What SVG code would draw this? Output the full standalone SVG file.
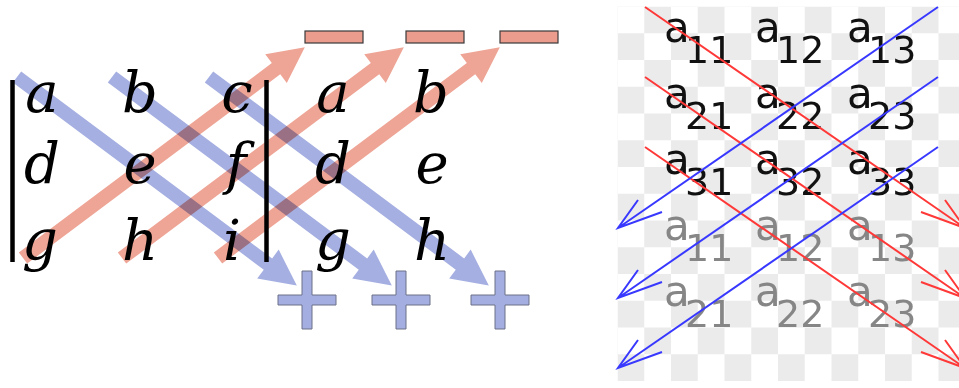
<svg xmlns="http://www.w3.org/2000/svg" width="959" height="388" viewBox="0 0 959 388">
<defs>
<style>
.m{font-family:"DejaVu Serif","Liberation Serif",serif;font-style:italic;font-size:56px;fill:#000;text-anchor:middle}
.bar{stroke:#000;stroke-width:4.5}
.ba{fill:#a5afe1;mix-blend-mode:multiply}
.ra{fill:#eea596;mix-blend-mode:multiply}
.plus{fill:#a4aee0;stroke:#6d7088;stroke-width:1}
.minus{fill:#ec9c8c;stroke:#3a3a3a;stroke-width:1.2}
.t{font-family:"DejaVu Sans",sans-serif;font-size:42px}
.s{font-size:38px}
.k{fill:#111}
.g{fill:#868686}
.rl{stroke:#ff3838;stroke-width:2;fill:none}
.bl{stroke:#3838ff;stroke-width:2;fill:none}
</style>
<pattern id="chk" x="617.5" y="6.5" width="53.5" height="53.5" patternUnits="userSpaceOnUse">
<rect x="26.75" y="0" width="26.75" height="26.75" fill="#ebebeb"/>
<rect x="0" y="26.75" width="26.75" height="26.75" fill="#ebebeb"/>
</pattern>
<path id="barrow" d="M0,-7 H313 V-18 L349,0 L313,18 V7 H0 Z"/>
<path id="rarrow" d="M0,-7 H316 V-18 L352,0 L316,18 V7 H0 Z"/>
<path id="cross" d="M-5,-29 h10 v24 h24 v10 h-24 v24 h-10 v-24 h-24 v-10 h24 Z"/>
</defs>
<rect width="959" height="388" fill="#fff"/>

<g id="sarrus-left">
<g id="letters">
<text class="m" x="42" y="112">a</text>
<text class="m" x="140" y="112">b</text>
<text class="m" x="237" y="112">c</text>
<text class="m" x="42" y="183">d</text>
<text class="m" x="140" y="183">e</text>
<text class="m" x="236" y="183">f</text>
<text class="m" x="40" y="260">g</text>
<text class="m" x="140" y="260">h</text>
<text class="m" x="232" y="260">i</text>
<text class="m" x="333" y="112">a</text>
<text class="m" x="431" y="112">b</text>
<text class="m" x="333" y="183">d</text>
<text class="m" x="432" y="183">e</text>
<text class="m" x="333" y="260">g</text>
<text class="m" x="432" y="260">h</text>
</g>
<g id="bars">
<line class="bar" x1="12.5" y1="80" x2="12.5" y2="262"/>
<line class="bar" x1="266.5" y1="80" x2="266.5" y2="262"/>
</g>
<g id="minus-signs">
<rect class="minus" x="305" y="31" width="58" height="12"/>
<rect class="minus" x="406" y="31" width="58" height="12"/>
<rect class="minus" x="500" y="31" width="58" height="12"/>
</g>
<g id="plus-signs">
<use href="#cross" class="plus" transform="translate(307,300)"/>
<use href="#cross" class="plus" transform="translate(401,300)"/>
<use href="#cross" class="plus" transform="translate(500,300)"/>
</g>
<g id="thick-arrows">
<use href="#barrow" class="ba" transform="translate(17,77) rotate(36.7)"/>
<use href="#barrow" class="ba" transform="translate(112,77) rotate(36.7)"/>
<use href="#barrow" class="ba" transform="translate(209,77) rotate(36.7)"/>
<use href="#rarrow" class="ra" transform="translate(23,258) rotate(-36.8)"/>
<use href="#rarrow" class="ra" transform="translate(122,258) rotate(-36.8)"/>
<use href="#rarrow" class="ra" transform="translate(218,258) rotate(-36.8)"/>
</g>
</g>

<g id="sarrus-right">
<rect x="617.5" y="6.5" width="341.5" height="374.5" fill="url(#chk)"/>
<g id="entries" class="t">
<text class="k" x="664" y="42">a<tspan class="s" x="685" y="63">11</tspan></text>
<text class="k" x="755" y="42">a<tspan class="s" x="776" y="63">12</tspan></text>
<text class="k" x="847" y="42">a<tspan class="s" x="868" y="63">13</tspan></text>
<text class="k" x="664" y="108">a<tspan class="s" x="685" y="129">21</tspan></text>
<text class="k" x="755" y="108">a<tspan class="s" x="776" y="129">22</tspan></text>
<text class="k" x="847" y="108">a<tspan class="s" x="868" y="129">23</tspan></text>
<text class="k" x="664" y="174">a<tspan class="s" x="685" y="195">31</tspan></text>
<text class="k" x="755" y="174">a<tspan class="s" x="776" y="195">32</tspan></text>
<text class="k" x="847" y="174">a<tspan class="s" x="868" y="195">33</tspan></text>
<text class="g" x="664" y="240">a<tspan class="s" x="685" y="261">11</tspan></text>
<text class="g" x="755" y="240">a<tspan class="s" x="776" y="261">12</tspan></text>
<text class="g" x="847" y="240">a<tspan class="s" x="868" y="261">13</tspan></text>
<text class="g" x="664" y="306">a<tspan class="s" x="685" y="327">21</tspan></text>
<text class="g" x="755" y="306">a<tspan class="s" x="776" y="327">22</tspan></text>
<text class="g" x="847" y="306">a<tspan class="s" x="868" y="327">23</tspan></text>
</g>
<g id="connectors">
<path class="rl" d="M645,7 L965,228 M945,200 L965,228 L921,212"/>
<path class="rl" d="M645,77 L965,298 M945,270 L965,298 L921,282"/>
<path class="rl" d="M645,147 L965,368 M945,340 L965,368 L921,352"/>
<path class="bl" d="M938,7 L618,228 M638,200 L618,228 L662,212"/>
<path class="bl" d="M938,77 L618,298 M638,270 L618,298 L662,282"/>
<path class="bl" d="M938,147 L618,368 M638,340 L618,368 L662,352"/>
</g>
</g>
</svg>
